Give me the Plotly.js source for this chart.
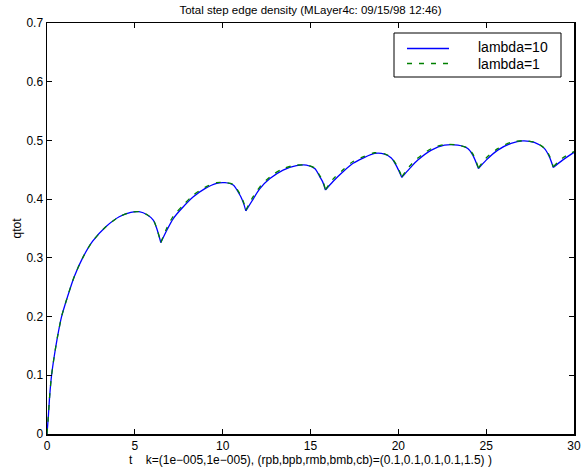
<!DOCTYPE html>
<html>
<head>
<meta charset="utf-8">
<script src="https://cdn.plot.ly/plotly-3.0.1.min.js"></script>
<style>
  html, body { margin: 0; padding: 0; background: #fff; }
  #plot { width: 582px; height: 473px; }
</style>
</head>
<body>
<div id="plot"></div>
<script>
// Time samples (shared by both runs)
const t = [
  0, 0.076, 0.15, 0.26, 0.41, 0.60, 0.83, 1.17, 1.55, 2.03, 2.59, 3.35, 4.11, 4.77, 5.24, 5.72, 6.06, 6.28, 6.48,
  6.82, 7.19, 7.76, 8.33, 8.99, 9.66, 10.13, 10.60, 10.98, 11.08, 11.20, 11.32,
  11.65, 12.12, 12.69, 13.44, 14.20, 14.77, 15.24, 15.53, 15.70, 15.85,
  16.28, 16.85, 17.42, 17.99, 18.65, 19.22, 19.60, 19.92, 20.20,
  20.64, 21.11, 21.88, 22.63, 23.39, 23.95, 24.24, 24.56,
  25.00, 25.66, 26.42, 27.08, 27.74, 28.31, 28.60, 28.82,
  29.35, 30.00
];

// Total step edge density, lambda = 10
const qLambda10 = [
  0, 0.030, 0.064, 0.100, 0.132, 0.166, 0.200, 0.234, 0.268, 0.300, 0.328, 0.353, 0.370, 0.3776, 0.3786, 0.373, 0.364, 0.347, 0.326,
  0.347, 0.367, 0.387, 0.404, 0.418, 0.427, 0.428, 0.424, 0.407, 0.401, 0.392, 0.380,
  0.396, 0.418, 0.435, 0.4495, 0.457, 0.458, 0.452, 0.438, 0.429, 0.4155,
  0.430, 0.4466, 0.461, 0.470, 0.478, 0.4767, 0.470, 0.455, 0.437,
  0.452, 0.4665, 0.4835, 0.492, 0.492, 0.4864, 0.475, 0.452,
  0.4665, 0.4835, 0.495, 0.4993, 0.4966, 0.4864, 0.472, 0.454,
  0.4665, 0.4796
];

// Total step edge density, lambda = 1
const qLambda1 = [
  0, 0.030, 0.064, 0.100, 0.132, 0.166, 0.200, 0.234, 0.268, 0.300, 0.328, 0.353, 0.370, 0.3776, 0.3786, 0.373, 0.364, 0.347, 0.326,
  0.351, 0.371, 0.390, 0.407, 0.420, 0.428, 0.428, 0.425, 0.409, 0.403, 0.394, 0.381,
  0.400, 0.421, 0.438, 0.452, 0.458, 0.458, 0.453, 0.440, 0.431, 0.416,
  0.434, 0.450, 0.464, 0.472, 0.479, 0.477, 0.471, 0.457, 0.438,
  0.456, 0.470, 0.486, 0.493, 0.492, 0.487, 0.477, 0.453,
  0.470, 0.486, 0.497, 0.4995, 0.497, 0.487, 0.474, 0.455,
  0.470, 0.481
];

// Times where a new arch starts (sharp minima of the density)
const cuspTimes = [6.48, 11.32, 15.85, 20.20, 24.56, 28.82];

const seriesNames = ['lambda=10', 'lambda=1'];
const xTicks = [0, 5, 10, 15, 20, 25, 30];
const yTicks = [0, 0.1, 0.2, 0.3, 0.4, 0.5, 0.6, 0.7];
const yTickText = ['0', '0.1', '0.2', '0.3', '0.4', '0.5', '0.6', '0.7'];

const FONT = 'Liberation Sans, Arial, Helvetica, sans-serif';

// Break the path at each cusp so the spline stays smooth inside an arch
// but keeps the corner sharp where one arch meets the next.
function splitAtCusps(xs, ys) {
  const ox = [], oy = [];
  xs.forEach((x, i) => {
    ox.push(x); oy.push(ys[i]);
    if (cuspTimes.includes(x)) { ox.push(null, x); oy.push(null, ys[i]); }
  });
  return { x: ox, y: oy };
}

const s10 = splitAtCusps(t, qLambda10);
const s1 = splitAtCusps(t, qLambda1);

const traces = [
  {
    x: s10.x, y: s10.y, name: seriesNames[0], type: 'scatter', mode: 'lines',
    connectgaps: false,
    line: { color: '#0000ff', width: 1.3, shape: 'spline', smoothing: 0.8 }, showlegend: false
  },
  {
    x: s1.x, y: s1.y, name: seriesNames[1], type: 'scatter', mode: 'lines',
    connectgaps: false,
    line: { color: '#008000', width: 1.3, dash: '5px,7px', shape: 'spline', smoothing: 0.8 }, showlegend: false
  }
];

// Plot area geometry (px) used to place the boxed key in paper coordinates
const L = 47, R = 574, T = 23, B = 434;
const px = v => (v - L) / (R - L);
const py = v => (B - v) / (B - T);

const axisCommon = {
  showline: true, linecolor: '#000', linewidth: 1.5, mirror: 'ticks',
  ticks: 'inside', ticklen: 5, tickwidth: 1, tickcolor: '#000',
  showgrid: false, zeroline: false,
  tickfont: { family: FONT, size: 12, color: '#000' }
};

const layout = {
  width: 582, height: 473,
  margin: { l: L, r: 582 - R, t: T, b: 473 - B, pad: 0 },
  paper_bgcolor: '#fff', plot_bgcolor: '#fff',
  font: { family: FONT, color: '#000' },
  title: {
    text: 'Total step edge density (MLayer4c: 09/15/98 12:46)',
    font: { family: FONT, size: 11.5, color: '#000' },
    x: px(310.5), xref: 'paper', xanchor: 'center',
    y: 1 - 10 / 473, yref: 'container', yanchor: 'middle'
  },
  xaxis: Object.assign({}, axisCommon, {
    range: [0, 30], tickvals: xTicks,
    title: {
      text: 't\u00a0\u00a0\u00a0\u00a0k=(1e\u2212005,1e\u2212005), (rpb,bpb,rmb,bmb,cb)=(0.1,0.1,0.1,0.1,1.5) )',
      font: { family: FONT, size: 12, color: '#000' }, standoff: 1
    }
  }),
  yaxis: Object.assign({}, axisCommon, {
    range: [0, 0.7], tickvals: yTicks, ticktext: yTickText,
    title: { text: 'qtot', font: { family: FONT, size: 12, color: '#000' }, standoff: 2 }
  }),
  shapes: [
    { type: 'rect', xref: 'paper', yref: 'paper', layer: 'above',
      x0: px(394), x1: px(561), y0: py(77), y1: py(33),
      line: { color: '#000', width: 1 }, fillcolor: '#fff' },
    { type: 'line', xref: 'paper', yref: 'paper', layer: 'above',
      x0: px(407), x1: px(449), y0: py(48.5), y1: py(48.5),
      line: { color: '#0000ff', width: 1.3 } },
    { type: 'line', xref: 'paper', yref: 'paper', layer: 'above',
      x0: px(407), x1: px(449), y0: py(63.5), y1: py(63.5),
      line: { color: '#008000', width: 1.3, dash: '5px,7px' } }
  ],
  annotations: [
    { text: seriesNames[0], xref: 'paper', yref: 'paper', x: px(476), y: py(47.5),
      xanchor: 'left', yanchor: 'middle', showarrow: false,
      font: { family: FONT, size: 14, color: '#000' } },
    { text: seriesNames[1], xref: 'paper', yref: 'paper', x: px(476), y: py(64),
      xanchor: 'left', yanchor: 'middle', showarrow: false,
      font: { family: FONT, size: 14, color: '#000' } }
  ]
};

Plotly.newPlot('plot', traces, layout, { staticPlot: true, displayModeBar: false });
</script>
</body>
</html>
